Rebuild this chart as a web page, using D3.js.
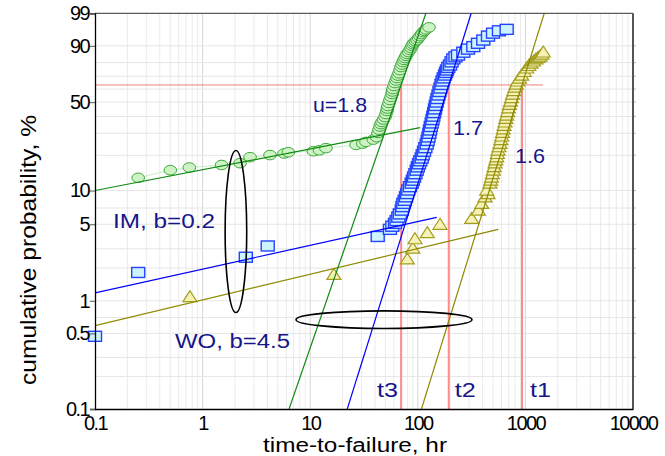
<!DOCTYPE html>
<html>
<head>
<meta charset="utf-8">
<script src="https://cdn.jsdelivr.net/npm/d3@7"></script>
<style>
  html, body { margin: 0; padding: 0; background: #fff; }
  svg { display: block; }
  text { font-family: "Liberation Sans", Arial, sans-serif; }
</style>
</head>
<body>
<svg id="chart" width="665" height="456"></svg>
<script>
// ---- data -------------------------------------------------------------
// axis ticks
const xTicks = [0.1, 1, 10, 100, 1000, 10000];
const pTicks = [0.1, 0.5, 1, 5, 10, 50, 90, 99];
const pGrid = [0.2, 0.3, 0.5, 0.7, 1, 2, 3, 5, 7, 10, 20, 30, 40, 50, 60, 70, 80, 90];

// failure times (hr) and cumulative probability (%) of each sample
const circlePts = [
  [0.252, 12.9], [0.501, 15.0], [0.752, 15.8], [1.50, 16.6], [2.23, 17.2], [2.76, 19.3],
  [4.23, 20.1], [5.71, 20.7], [6.26, 21.2], [10.7, 21.6], [12.2, 22.0], [14.0, 22.9],
  [26.7, 24.3], [30.8, 24.9], [33.0, 25.7], [38.6, 26.8], [41.5, 28.0],
  [42.7, 30.2], [43.6, 32.0], [44.5, 33.8], [45.5, 35.2], [46.5, 36.5], [48.0, 38.0],
  [49.6, 39.6], [50.6, 41.6], [51.7, 43.7], [52.2, 45.4], [52.8, 47.2], [54.0, 49.4],
  [55.1, 51.6], [56.4, 53.9], [57.6, 56.2], [58.2, 58.1], [58.8, 60.0], [60.1, 62.4],
  [61.4, 64.7], [62.8, 66.7], [64.1, 68.6], [65.5, 70.5], [66.9, 72.3], [68.3, 74.6],
  [69.8, 76.9], [71.3, 78.7], [72.9, 80.4], [74.4, 81.8], [76.0, 83.1], [77.7, 84.4],
  [79.4, 85.6], [82.0, 86.7], [84.6, 87.8], [86.5, 88.9], [88.4, 90.0], [90.3, 90.8],
  [92.2, 91.5], [95.2, 92.1], [98.3, 92.6], [101.5, 93.4], [104.8, 94.1], [108.2, 94.8],
  [111.8, 95.4], [115.5, 95.8], [119.2, 96.2], [127.1, 96.7]
];
const squarePts = [
  [0.1, 0.47], [0.252, 1.82], [2.52, 2.51], [4.03, 3.18], [42.4, 3.88],
  [55.1, 4.5], [58.0, 4.8], [61.4, 5.1], [63.5, 5.4], [65.9, 5.8], [68.0, 6.2],
  [70.9, 6.7], [72.0, 7.2], [73.3, 7.7], [75.5, 8.2], [77.7, 8.8], [79.5, 9.4],
  [81.6, 10.1], [84.5, 10.8], [87.8, 11.6], [90.0, 12.3], [92.2, 13.1], [95.0, 14.0],
  [97.7, 15.0], [100, 16.0], [102.6, 17.0], [105.5, 18.0], [108.7, 19.0], [111, 20.2],
  [114.2, 21.6], [117.5, 23.1], [121.0, 24.7], [123.5, 26.4], [125.8, 28.1], [128, 30.0],
  [129.8, 31.8], [132, 33.8], [134.7, 35.9], [137, 38.0], [139.4, 40.2], [142, 42.6],
  [144.5, 45.1], [147, 47.6], [149.9, 50.1], [152.5, 52.7], [155.8, 55.4], [159, 58.1],
  [162.6, 60.8], [166, 63.6], [169.7, 66.3], [174, 68.7], [179.0, 70.9], [183, 72.9],
  [186.8, 74.7], [192, 76.6], [199.2, 78.3], [206, 80.5], [213.8, 82.5], [224, 83.8],
  [236.4, 84.9], [264.8, 86.6], [292.8, 88.3], [328.0, 89.6], [362.7, 91.2], [406.3, 92.6],
  [449.2, 94.1], [500, 95.1], [568, 95.8], [670, 96.2]
];
const trianglePts = [
  [0.763, 1.09], [16.6, 1.75], [79.9, 2.42], [89.7, 3.04], [94.2, 3.7], [122.6, 4.21],
  [160.8, 5.0], [317, 5.66], [365, 6.7], [392.6, 7.7], [421.2, 8.8], [436.9, 10.1],
  [450, 9.4], [468.8, 11.6], [476, 12.3], [484, 13.1], [493, 14.0], [503, 15.0],
  [512, 16.1], [522, 17.3], [531, 18.3], [541, 19.4], [549, 20.7], [557, 22.1],
  [569, 23.5], [581, 25.0], [591, 26.8], [602, 28.6], [612, 30.5], [623, 32.4],
  [634, 34.4], [646, 36.5], [658, 38.7], [670, 40.9], [683, 43.3], [697, 45.8],
  [712, 48.3], [727, 50.8], [743, 53.4], [759, 56.0], [780, 58.7], [801, 61.5],
  [823, 63.9], [845, 66.3], [880, 68.6], [924, 70.9], [975, 73.6], [1028, 76.2],
  [1075, 78.0], [1127, 79.7], [1190, 81.1], [1254, 82.5], [1310, 83.4], [1367, 84.3],
  [1420, 85.5], [1467, 86.7]
];

// early-failure (IM) fits: [t start, % start, t end, % end]
const imFitCircle = [0.1, 10.0, 105, 33.1];
const imFitSquare = [0.1, 1.18, 150, 5.78];
const imFitTriangle = [0.1, 0.59, 560, 4.5];

// wear-out (WO) fits: [eta (hr), beta]
const woFitCircle = [70, 2.88];
const woFitSquare = [194, 3.18];
const woFitTriangle = [930, 3.21];

// characteristic lives t3, t2, t1 (hr) and the 63.2 % reference level
const charLives = [["t3", 70], ["t2", 194], ["t1", 930]];
const refLevel = 63.2;
const refLineEnd = 1460;

// ---- scales -----------------------------------------------------------
const svg = d3.select("#chart");
const L = 95, R = 633, T = 13.3, B = 409;

const wf = p => Math.log(-Math.log(1 - p / 100));
const x = d3.scaleLog().domain([0.1, 10000]).range([L, R]);
const yw = d3.scaleLinear().domain([wf(0.1), wf(99)]).range([B, T]);
const y = p => yw(wf(p));

svg.append("defs").append("clipPath").attr("id", "plot")
  .append("rect").attr("x", L).attr("y", T).attr("width", R - L).attr("height", B - T);

// ---- grid -------------------------------------------------------------
const grid = svg.append("g");
const vGrid = [];
for (let e = -1; e < 4; e++) for (let m = 1; m <= 9; m++) vGrid.push(m * Math.pow(10, e));
grid.selectAll("line.v").data(vGrid.filter(v => v > 0.1)).join("line")
  .attr("x1", d => x(d)).attr("x2", d => x(d)).attr("y1", T).attr("y2", B)
  .attr("stroke", d => Math.abs(Math.log10(d) % 1) < 1e-9 ? "#d6d6d6" : "#ebebeb")
  .attr("stroke-width", 1);
grid.selectAll("line.h").data(pGrid).join("line")
  .attr("x1", L).attr("x2", R).attr("y1", d => y(d)).attr("y2", d => y(d))
  .attr("stroke", "#e6e6e6").attr("stroke-width", 1);
// small ticks on the right frame
grid.selectAll("line.rt").data(pGrid).join("line")
  .attr("x1", R).attr("x2", R + 3).attr("y1", d => y(d)).attr("y2", d => y(d))
  .attr("stroke", "#bbb");

// ---- reference lines (63.2 % level, characteristic lives) ---------------
const ref = svg.append("g").attr("clip-path", "url(#plot)");
ref.append("line")
  .attr("x1", L).attr("x2", x(refLineEnd)).attr("y1", y(refLevel)).attr("y2", y(refLevel))
  .attr("stroke", "#f08080").attr("stroke-width", 1);
ref.selectAll("line.t").data(charLives).join("line")
  .attr("x1", d => x(d[1])).attr("x2", d => x(d[1]))
  .attr("y1", y(refLevel)).attr("y2", B)
  .attr("stroke", "#ff8a8a").attr("stroke-width", 2);

// ---- samples ----------------------------------------------------------
const pts = svg.append("g");
const byP = (a, b) => a[1] - b[1];
pts.append("path")
  .attr("d", d3.line().x(d => x(d[0])).y(d => y(d[1]))(circlePts.slice().sort(byP)))
  .attr("fill", "none").attr("stroke", "#c4efc4").attr("stroke-width", 1);

pts.selectAll("ellipse.c").data(circlePts.slice().sort(byP)).join("ellipse")
  .attr("cx", d => x(d[0])).attr("cy", d => y(d[1]))
  .attr("rx", 6.3).attr("ry", 4.8)
  .attr("fill", "#cdf3c4").attr("stroke", "#3da83d").attr("stroke-width", 1);

pts.selectAll("rect.s").data(squarePts.slice().sort(byP)).join("rect")
  .attr("x", d => x(d[0]) - 6.5).attr("y", d => y(d[1]) - 5)
  .attr("width", 13).attr("height", 10)
  .attr("fill", "#cdf3ff").attr("stroke", "#2544ff").attr("stroke-width", 1.4);

pts.selectAll("path.t").data(trianglePts.slice().sort(byP)).join("path")
  .attr("d", d => {
    const cx = x(d[0]), cy = y(d[1]);
    const p = d3.path();
    p.moveTo(cx, cy - 6); p.lineTo(cx + 7, cy + 5); p.lineTo(cx - 7, cy + 5); p.closePath();
    return p.toString();
  })
  .attr("fill", "#f6f2b6").attr("stroke", "#a39d1f").attr("stroke-width", 1.2);

// ---- fitted lines -----------------------------------------------------
const fits = svg.append("g").attr("clip-path", "url(#plot)");
const imLine = (f, color) => fits.append("line")
  .attr("x1", x(f[0])).attr("y1", y(f[1])).attr("x2", x(f[2])).attr("y2", y(f[3]))
  .attr("stroke", color).attr("stroke-width", 1.2);
const woLine = (f, color) => {
  const [eta, beta] = f;
  const tAt = p => eta * Math.exp(wf(p) / beta);
  fits.append("line")
    .attr("x1", x(tAt(0.1))).attr("y1", y(0.1)).attr("x2", x(tAt(99))).attr("y2", y(99))
    .attr("stroke", color).attr("stroke-width", 1.2);
};
imLine(imFitCircle, "#138a13");
imLine(imFitSquare, "#0000ff");
imLine(imFitTriangle, "#8e8a00");
woLine(woFitCircle, "#138a13");
woLine(woFitSquare, "#0000ff");
woLine(woFitTriangle, "#8e8a00");

// ---- annotation ellipses --------------------------------------------
svg.append("ellipse").attr("cx", x(2.04)).attr("cy", y(4.3)).attr("rx", 10.8).attr("ry", 81)
  .attr("fill", "none").attr("stroke", "#000").attr("stroke-width", 1.6);
svg.append("ellipse").attr("cx", x(48.5)).attr("cy", y(0.67)).attr("rx", 88).attr("ry", 8.8)
  .attr("fill", "none").attr("stroke", "#000").attr("stroke-width", 1.6);

// ---- frame ------------------------------------------------------------
svg.append("line").attr("x1", L).attr("x2", R).attr("y1", T).attr("y2", T)
  .attr("stroke", "#333").attr("stroke-width", 1);
svg.append("line").attr("x1", R).attr("x2", R).attr("y1", T).attr("y2", B)
  .attr("stroke", "#555").attr("stroke-width", 2);

// ---- axes -------------------------------------------------------------
const xAxis = svg.append("g").attr("transform", `translate(0,${B})`)
  .call(d3.axisBottom(x).tickValues(xTicks).tickFormat(d3.format("~g"))
    .tickSize(0).tickPadding(7));
xAxis.select(".domain").attr("stroke", "#000").attr("stroke-width", 1.3);
xAxis.selectAll("text").attr("font-size", 20).attr("letter-spacing", -1.6)
  .attr("fill", "#000").attr("dy", "0.7em");

const yAxis = svg.append("g").attr("transform", `translate(${L},0)`)
  .call(d3.axisLeft(yw).tickValues(pTicks.map(wf))
    .tickFormat((d, i) => String(pTicks[i])).tickSize(5).tickPadding(1));
yAxis.select(".domain").attr("stroke", "#000").attr("stroke-width", 1.3);
yAxis.selectAll("line").attr("stroke", "#555");
yAxis.selectAll("text").attr("font-size", 20).attr("letter-spacing", -1.6)
  .attr("fill", "#000");

// axis titles
svg.append("text").attr("x", 355).attr("y", 452).attr("text-anchor", "middle")
  .attr("font-size", 20).attr("textLength", 184).attr("lengthAdjust", "spacingAndGlyphs")
  .text("time-to-failure, hr");
svg.append("text").attr("transform", "translate(36,250) rotate(-90)")
  .attr("text-anchor", "middle").attr("font-size", 22)
  .attr("textLength", 270).attr("lengthAdjust", "spacingAndGlyphs")
  .text("cumulative probability, %");

// ---- in-plot labels -------------------------------------------------
const navy = "#16168a";
const labels = [
  ["u=1.8", 313, 112, 54],
  ["1.7", 453, 135, 30],
  ["1.6", 515, 163, 30],
  ["IM, b=0.2", 113, 228, 102],
  ["WO, b=4.5", 175, 348, 115]
];
svg.selectAll("text.lab").data(labels).join("text")
  .attr("x", d => d[1]).attr("y", d => d[2]).attr("font-size", 20)
  .attr("textLength", d => d[3]).attr("lengthAdjust", "spacingAndGlyphs")
  .attr("fill", navy).text(d => d[0]);
// t3 sits left of its line, t2 and t1 to the right
const tOffset = { t3: -3, t2: 6, t1: 8 };
svg.selectAll("text.tl").data(charLives).join("text")
  .attr("x", d => x(d[1]) + tOffset[d[0]]).attr("y", 397)
  .attr("text-anchor", d => tOffset[d[0]] < 0 ? "end" : "start")
  .attr("font-size", 21).attr("textLength", 21).attr("lengthAdjust", "spacingAndGlyphs")
  .attr("fill", navy)
  .text(d => d[0]);
</script>
</body>
</html>
